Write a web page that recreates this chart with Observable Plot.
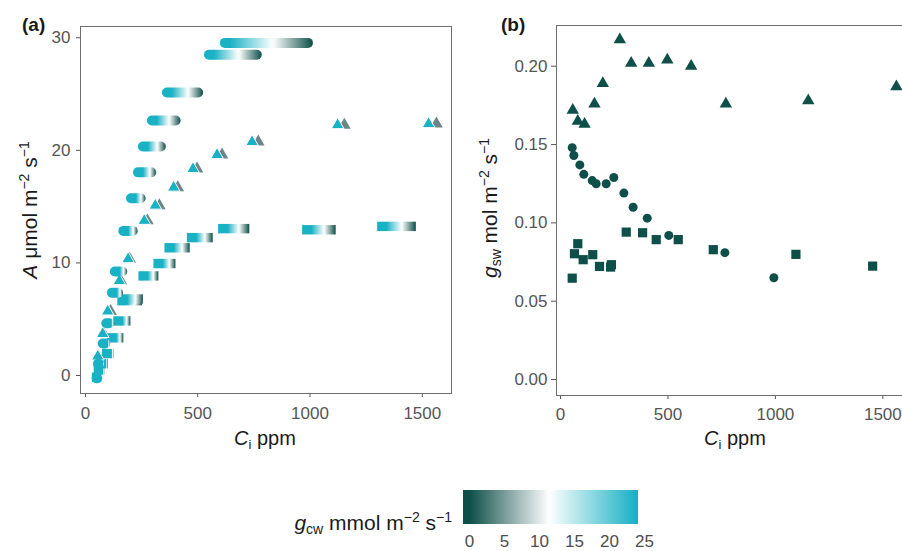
<!DOCTYPE html>
<html><head><meta charset="utf-8">
<script src="https://cdn.jsdelivr.net/npm/d3@7"></script>
<script src="https://cdn.jsdelivr.net/npm/@observablehq/plot@0.6"></script>
<style>
html,body{margin:0;padding:0;background:#fff;}
body{width:902px;height:551px;overflow:hidden;position:relative;font-family:"Liberation Sans",Arial,sans-serif;}
#pa{position:absolute;left:0;top:0;width:455px;}
#pb{position:absolute;left:450px;top:0;width:470px;}
#leg{position:absolute;left:463px;top:490px;width:205px;}
#ann{position:absolute;left:0;top:0;pointer-events:none;}
</style></head><body>
<div id="pa"></div><div id="pb"></div><div id="leg"></div>
<svg id="ann" width="902" height="551" font-family="Liberation Sans, Arial, sans-serif" fill="#1a1a1a">
 <text x="22" y="31" font-size="19" font-weight="bold">(a)</text>
 <text x="501" y="31" font-size="19" font-weight="bold">(b)</text>
 <text transform="translate(37,210) rotate(-90)" text-anchor="middle" font-size="21"><tspan font-style="italic">A</tspan> μmol m<tspan dy="-8" font-size="14">−2</tspan><tspan dy="8"> s</tspan><tspan dy="-8" font-size="14">−1</tspan></text>
 <text transform="translate(497,208) rotate(-90)" text-anchor="middle" font-size="21"><tspan font-style="italic">g</tspan><tspan dy="4" font-size="14">sw</tspan><tspan dy="-4"> mol m</tspan><tspan dy="-8" font-size="14">−2</tspan><tspan dy="8"> s</tspan><tspan dy="-8" font-size="14">−1</tspan></text>
 <text x="265" y="445" text-anchor="middle" font-size="20"><tspan font-style="italic">C</tspan><tspan dy="4" font-size="13">i</tspan><tspan dy="-4"> ppm</tspan></text>
 <text x="735" y="445" text-anchor="middle" font-size="20"><tspan font-style="italic">C</tspan><tspan dy="4" font-size="13">i</tspan><tspan dy="-4"> ppm</tspan></text>
 <text x="452" y="530" text-anchor="end" font-size="21"><tspan font-style="italic">g</tspan><tspan dy="4" font-size="14">cw</tspan><tspan dy="-4"> mmol m</tspan><tspan dy="-8" font-size="14">−2</tspan><tspan dy="8"> s</tspan><tspan dy="-8" font-size="14">−1</tspan></text>
</svg>
<script>
// ---------- data ----------
// circles: Ci at gcw = 0 (also panel b), Ci at max gcw, A, gsw
const circCi    = [54.5, 62, 90, 108.5, 147.5, 166, 212.5, 248, 295, 338, 403.6, 504, 765, 993];
const circCiMin = [52, 58, 79, 95, 120, 133, 171, 205, 236, 258, 298, 365, 552, 623];
const circA     = [-0.3, 1.0, 2.8, 4.6, 7.3, 9.2, 12.8, 15.7, 18.0, 20.3, 22.6, 25.1, 28.45, 29.5];
const circGsw   = [0.148, 0.143, 0.137, 0.131, 0.127, 0.125, 0.125, 0.129, 0.119, 0.110, 0.103, 0.092, 0.081, 0.065];
// triangles
const triCi    = [57, 80.5, 112, 158, 197, 276, 329, 411, 497, 608, 769.5, 1153, 1563];
const triCiMin = [55, 77, 99, 151, 190, 262, 311, 393, 479, 586, 742, 1123, 1528];
const triA     = [1.7, 3.7, 5.7, 8.4, 10.35, 13.75, 15.1, 16.7, 18.35, 19.6, 20.75, 22.25, 22.35];
const triGsw   = [0.172, 0.165, 0.163, 0.176, 0.189, 0.217, 0.202, 0.202, 0.204, 0.200, 0.176, 0.178, 0.187];
// squares
const sqCi    = [54.5, 65, 80.5, 105.5, 150, 181.5, 233, 237, 306, 382, 445.5, 548, 711, 1095.5, 1452.5];
const sqCiMin = [52, 60, 72, 97, 119, 147, 165, 168, 259, 326, 375, 475, 614, 988, 1322];
const sqA     = [-0.2, 0.45, 1.0, 1.9, 3.3, 4.8, 6.6, 6.75, 8.8, 9.9, 11.3, 12.2, 13.0, 12.9, 13.2];
const sqGsw   = [0.0647, 0.0803, 0.0867, 0.0765, 0.0797, 0.0722, 0.0718, 0.0733, 0.0941, 0.0937, 0.0893, 0.0893, 0.0829, 0.0799, 0.0724];
// axes / legend
const ciTicks = [0, 500, 1000, 1500];
const aTicks = [0, 10, 20, 30];
const gswTicks = [0, 0.05, 0.10, 0.15, 0.20];
const gcwTicks = [0, 5, 10, 15, 20, 25];
const gcwStops = [0, 11.5, 24];
const gcwColors = ["#0c4e48", "#ffffff", "#19b1c4"];
const gcwMax = 24;

// ---------- helpers ----------
const gcwColor = d3.scaleLinear().domain(gcwStops).range(gcwColors).interpolate(d3.interpolateRgb).clamp(true);
const cyan = gcwColor(gcwMax), dark = "#0e5049";
const FONT = '"Liberation Sans", Arial, sans-serif';
const mk = (A, ci0, ciM, g) => A.map((a, i) => ({A: a, ci0: ci0[i], ciM: ciM[i], gsw: g[i]}));
const circ = mk(circA, circCi, circCiMin, circGsw);
const tri = mk(triA, triCi, triCiMin, triGsw);
const sq = mk(sqA, sqCi, sqCiMin, sqGsw);

const circR = 5, sqH = 4.7;
function stripOpts(h, rx, label) {
  return {x1: "ciM", x2: "ci0", y1: "A", y2: "A",
    insetLeft: -h, insetRight: -h, insetTop: -h, insetBottom: -h,
    rx: rx, fill: cyan, ariaLabel: label};
}

const plotA = Plot.plot({
  width: 455, height: 460,
  marginLeft: 80, marginRight: 4, marginTop: 26, marginBottom: 67,
  style: {fontFamily: FONT, fontSize: "17px", color: "#555", background: "transparent", maxWidth: "none"},
  x: {domain: [-22, 1630], ticks: ciTicks, tickFormat: "d", tickSize: 4, tickPadding: 9, label: null},
  y: {domain: [-1.6, 31.0], ticks: aTicks, tickSize: 4, tickPadding: 6, label: null},
  marks: [
    Plot.frame({stroke: "#6e6e6e"}),
    Plot.rect(sq, stripOpts(sqH, 0, "square-strips")),
    Plot.dot(tri, {x: "ci0", y: "A", symbol: "triangle", r: 4.7, fill: "#6d8587"}),
    Plot.dot(tri, {x: "ciM", y: "A", symbol: "triangle", r: 4.7, fill: cyan, stroke: "white", strokeWidth: 1}),
    Plot.rect(circ, stripOpts(circR, circR, "circle-strips"))
  ]
});
document.getElementById("pa").appendChild(plotA);

function applyStripGradients(svg, group, half, prefix) {
  const ns = "http://www.w3.org/2000/svg";
  const defs = document.createElementNS(ns, "defs");
  svg.insertBefore(defs, svg.firstChild);
  Array.from(group.children).forEach((el, i) => {
    if (el.tagName.toLowerCase() === "title") return;
    const w = el.getBBox().width;
    const f0 = w > 0 ? Math.min(1, (2 * half) / w) : 1;
    const id = prefix + i;
    const lg = document.createElementNS(ns, "linearGradient");
    lg.setAttribute("id", id);
    lg.setAttribute("x1", "0"); lg.setAttribute("y1", "0");
    lg.setAttribute("x2", "1"); lg.setAttribute("y2", "0");
    const add = (o, c) => {
      const s = document.createElementNS(ns, "stop");
      s.setAttribute("offset", o); s.setAttribute("stop-color", c);
      lg.appendChild(s);
    };
    add(0, gcwColor(gcwMax));
    const n = 24;
    for (let k = 0; k <= n; ++k) {
      const t = k / n;
      add(f0 + (1 - f0) * t, gcwColor(gcwMax * (1 - t)));
    }
    defs.appendChild(lg);
    el.setAttribute("fill", `url(#${id})`);
    el.style.fill = `url(#${id})`;
  });
}
let sqG = plotA.querySelector('g[aria-label="square-strips"]');
let ciG = plotA.querySelector('g[aria-label="circle-strips"]');
if (!sqG || !ciG) {
  const rg = plotA.querySelectorAll('g[aria-label="rect"]');
  sqG = rg[0]; ciG = rg[1];
}
if (sqG) applyStripGradients(plotA, sqG, sqH, "gsq");
if (ciG) applyStripGradients(plotA, ciG, circR, "gci");

const plotB = Plot.plot({
  width: 470, height: 460,
  marginLeft: 106, marginRight: 8, marginTop: 25, marginBottom: 65,
  style: {fontFamily: FONT, fontSize: "17px", color: "#555", background: "transparent", maxWidth: "none"},
  x: {domain: [-18.6, 1638], ticks: ciTicks, tickFormat: "d", tickSize: 4, tickPadding: 8, label: null},
  y: {domain: [-0.0102, 0.226], ticks: gswTicks, tickFormat: ".2f", tickSize: 5, tickPadding: 4, label: null},
  marks: [
    Plot.frame({stroke: "#6e6e6e"}),
    Plot.dot(tri, {x: "ci0", y: "gsw", symbol: "triangle", r: 4.6, fill: dark}),
    Plot.dot(circ, {x: "ci0", y: "gsw", symbol: "circle", r: 4.5, fill: dark}),
    Plot.dot(sq, {x: "ci0", y: "gsw", symbol: "square", r: 5.2, fill: dark})
  ]
});
document.getElementById("pb").appendChild(plotB);

const leg = Plot.legend({
  color: {type: "linear", domain: [-0.8, 24.2], interpolate: t => gcwColor(-0.8 + 25 * t)},
  width: 205, height: 62, marginTop: 0, marginBottom: 28, marginLeft: 0, marginRight: 30,
  tickSize: 0, ticks: gcwTicks,
  style: {fontFamily: FONT, fontSize: "17px", color: "#4d4d4d", background: "transparent", maxWidth: "none", overflow: "visible"}
});
leg.querySelectorAll(".tick line").forEach(l => l.remove());
leg.querySelectorAll(".tick text").forEach(t => t.setAttribute("y", 11));
document.getElementById("leg").appendChild(leg);
</script>
</body></html>
